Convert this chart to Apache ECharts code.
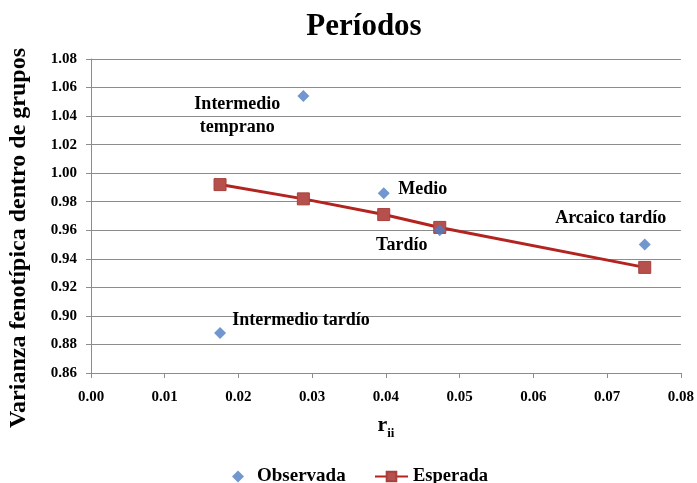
<!DOCTYPE html>
<html><head><meta charset="utf-8">
<script src="https://cdn.jsdelivr.net/npm/echarts@6/dist/echarts.min.js"></script>
<style>html,body{margin:0;padding:0;background:#fff}#c{width:697px;height:483px}</style>
</head><body><div id="c"></div>
<script>
const xObs = [0.0288, 0.0397, 0.0473, 0.0751, 0.0175];
const yObs = [1.054, 0.986, 0.960, 0.950, 0.888];
const obsLabels = ['Intermedio\ntemprano', 'Medio', 'Tardío', 'Arcaico tardío', 'Intermedio tardío'];
const xExp = [0.0175, 0.0288, 0.0397, 0.0473, 0.0751];
const yExp = [0.992, 0.982, 0.971, 0.962, 0.934];
const labelOffsets = [[-66, 20], [39, -4], [-38, 15], [-34, -26], [81, -13]];

const serif = '"Liberation Serif", "Times New Roman", serif';
const SYM = 12;
const chart = echarts.init(document.getElementById('c'));
chart.setOption({
  animation: false,
  graphic: [
    { type: 'text', x: 364, y: 27, z: 10,
      style: { text: 'Períodos', align: 'center', verticalAlign: 'middle',
        font: 'bold 31px ' + serif, fill: '#000' } },
    { type: 'text', x: 19, y: 238, rotation: Math.PI / 2, z: 10,
      style: { text: 'Varianza fenotípica dentro de grupos', align: 'center', verticalAlign: 'middle',
        font: 'bold 24px ' + serif, fill: '#000' } }
  ],
  grid: { left: 91, right: 16, top: 59, bottom: 110 },
  xAxis: {
    type: 'value', min: 0, max: 0.08, interval: 0.01,
    name: 'r{s|ii}', nameLocation: 'middle', nameGap: 38,
    nameTextStyle: { fontFamily: serif, fontWeight: 'bold', fontSize: 22, color: '#000',
      rich: { s: { fontFamily: serif, fontWeight: 'bold', fontSize: 13, color: '#000', verticalAlign: 'bottom', padding: [16, 0, 0, 0] } } },
    axisLine: { lineStyle: { color: '#8c8c8c', width: 1 } },
    axisTick: { show: true, length: 5, lineStyle: { color: '#8c8c8c' } },
    splitLine: { show: false },
    axisLabel: { fontFamily: serif, fontWeight: 'bold', fontSize: 15, color: '#000', margin: 17,
      formatter: v => v.toFixed(2) }
  },
  yAxis: {
    type: 'value', min: 0.86, max: 1.08, interval: 0.02,
    axisLine: { show: true, lineStyle: { color: '#8c8c8c', width: 1 } },
    axisTick: { show: true, length: 5, lineStyle: { color: '#8c8c8c' } },
    splitLine: { show: true, lineStyle: { color: '#8c8c8c', width: 1 } },
    axisLabel: { fontFamily: serif, fontWeight: 'bold', fontSize: 15, color: '#000', margin: 14,
      formatter: v => v.toFixed(2) }
  },
  legend: [
    { left: 227, top: 462, itemWidth: 12, itemHeight: 12, icon: 'diamond',
      textStyle: { fontFamily: serif, fontWeight: 'bold', fontSize: 19, color: '#000', padding: [0, 0, 0, 8] },
      data: [{ name: 'Observada' }] },
    { left: 369, top: 462, itemWidth: 33, itemHeight: 12,
      textStyle: { fontFamily: serif, fontWeight: 'bold', fontSize: 18.5, color: '#000' },
      data: [{ name: 'Esperada' }] }
  ],
  series: [
    {
      name: 'Esperada', type: 'line',
      data: xExp.map((x, i) => [x, yExp[i]]),
      symbol: 'rect', symbolSize: 12,
      lineStyle: { color: '#B3231F', width: 3 },
      itemStyle: { color: '#B5504C', borderColor: '#A8403C', borderWidth: 1 },
      z: 2
    },
    {
      name: 'Observada', type: 'scatter',
      data: xObs.map((x, i) => ({ value: [x, yObs[i]],
        label: { position: [SYM / 2 + labelOffsets[i][0], SYM / 2 + labelOffsets[i][1]] } })),
      symbol: 'diamond', symbolSize: SYM,
      itemStyle: { color: '#4F7CC4' },
      label: {
        show: true, align: 'center', verticalAlign: 'middle',
        formatter: p => obsLabels[p.dataIndex],
        fontFamily: serif, fontWeight: 'bold', fontSize: 18, color: '#000', lineHeight: 23,
        textBorderWidth: 0, textBorderColor: 'transparent', opacity: 1
      },
      z: 3
    }
  ]
});
</script></body></html>
